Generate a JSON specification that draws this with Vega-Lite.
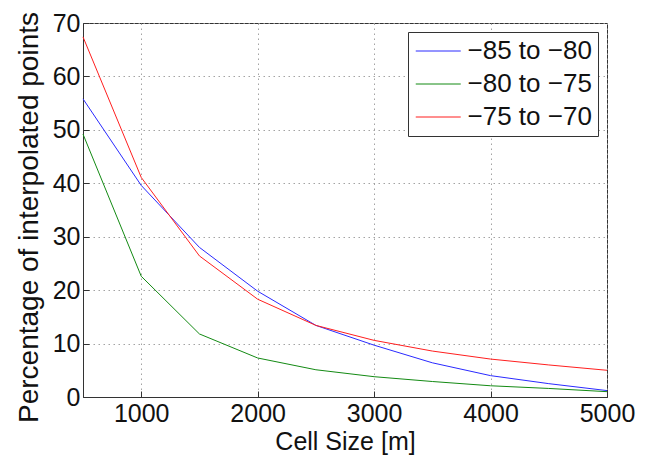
{
  "$schema": "https://vega.github.io/schema/vega-lite/v6.json",
  "width": 524,
  "height": 374,
  "autosize": {"type": "none"},
  "padding": {"left": 83, "top": 23, "right": 44, "bottom": 65},
  "background": "white",
  "config": {
    "font": "Liberation Sans",
    "view": {"stroke": "#333", "strokeWidth": 1},
    "axis": {
      "domainColor": "#333",
      "tickColor": "#333",
      "gridColor": "#999",
      "gridDash": [1.5, 3.5],
      "gridOpacity": 0.9,
      "labelColor": "#111",
      "titleColor": "#111",
      "labelFont": "Liberation Sans",
      "titleFont": "Liberation Sans",
      "titleFontWeight": "normal"
    }
  },
  "data": {
    "values": [
      {"cell": 500, "value": 55.8, "range": "\u221285 to \u221280"},
      {"cell": 1000, "value": 39.6, "range": "\u221285 to \u221280"},
      {"cell": 1500, "value": 28.0, "range": "\u221285 to \u221280"},
      {"cell": 2000, "value": 19.8, "range": "\u221285 to \u221280"},
      {"cell": 2500, "value": 13.4, "range": "\u221285 to \u221280"},
      {"cell": 3000, "value": 9.7, "range": "\u221285 to \u221280"},
      {"cell": 3500, "value": 6.4, "range": "\u221285 to \u221280"},
      {"cell": 4000, "value": 4.0, "range": "\u221285 to \u221280"},
      {"cell": 4500, "value": 2.5, "range": "\u221285 to \u221280"},
      {"cell": 5000, "value": 1.2, "range": "\u221285 to \u221280"},
      {"cell": 500, "value": 49.2, "range": "\u221280 to \u221275"},
      {"cell": 1000, "value": 22.6, "range": "\u221280 to \u221275"},
      {"cell": 1500, "value": 11.8, "range": "\u221280 to \u221275"},
      {"cell": 2000, "value": 7.3, "range": "\u221280 to \u221275"},
      {"cell": 2500, "value": 5.1, "range": "\u221280 to \u221275"},
      {"cell": 3000, "value": 3.8, "range": "\u221280 to \u221275"},
      {"cell": 3500, "value": 2.9, "range": "\u221280 to \u221275"},
      {"cell": 4000, "value": 2.1, "range": "\u221280 to \u221275"},
      {"cell": 4500, "value": 1.6, "range": "\u221280 to \u221275"},
      {"cell": 5000, "value": 1.0, "range": "\u221280 to \u221275"},
      {"cell": 500, "value": 67.4, "range": "\u221275 to \u221270"},
      {"cell": 1000, "value": 41.1, "range": "\u221275 to \u221270"},
      {"cell": 1500, "value": 26.4, "range": "\u221275 to \u221270"},
      {"cell": 2000, "value": 18.3, "range": "\u221275 to \u221270"},
      {"cell": 2500, "value": 13.4, "range": "\u221275 to \u221270"},
      {"cell": 3000, "value": 10.6, "range": "\u221275 to \u221270"},
      {"cell": 3500, "value": 8.6, "range": "\u221275 to \u221270"},
      {"cell": 4000, "value": 7.1, "range": "\u221275 to \u221270"},
      {"cell": 4500, "value": 6.0, "range": "\u221275 to \u221270"},
      {"cell": 5000, "value": 5.0, "range": "\u221275 to \u221270"}
    ]
  },
  "mark": {"type": "line", "strokeWidth": 1},
  "encoding": {
    "x": {
      "field": "cell",
      "type": "quantitative",
      "scale": {"domain": [500, 5000], "nice": false, "zero": false},
      "axis": {
        "title": "Cell Size [m]",
        "values": [1000, 2000, 3000, 4000, 5000],
        "format": "d",
        "labelFontSize": 25,
        "labelPadding": 10,
        "tickSize": -6,
        "labelFlush": false,
        "titleFontSize": 25,
        "titleX": 262,
        "titleY": 52,
        "titleBaseline": "alphabetic",
        "titleAlign": "center"
      }
    },
    "y": {
      "field": "value",
      "type": "quantitative",
      "scale": {"domain": [0, 70], "nice": false},
      "axis": {
        "title": "Percentage of interpolated points",
        "values": [0, 10, 20, 30, 40, 50, 60, 70],
        "labelFontSize": 25,
        "labelPadding": 9,
        "tickSize": -6,
        "labelFlush": false,
        "titleFontSize": 28,
        "titleX": -46,
        "titleY": 194,
        "titleAngle": 270,
        "titleBaseline": "alphabetic",
        "titleAlign": "center"
      }
    },
    "color": {
      "field": "range",
      "type": "nominal",
      "sort": ["\u221285 to \u221280", "\u221280 to \u221275", "\u221275 to \u221270"],
      "scale": {
        "domain": ["\u221285 to \u221280", "\u221280 to \u221275", "\u221275 to \u221270"],
        "range": ["#2a2aff", "#138a13", "#ff1f1f"]
      },
      "legend": {
        "title": null,
        "orient": "none",
        "legendX": 325,
        "legendY": 9,
        "symbolType": "M-1,0H3",
        "symbolSize": 506,
        "symbolStrokeWidth": 1,
        "labelFontSize": 26,
        "labelColor": "#111",
        "labelOffset": 27.5,
        "rowPadding": 7,
        "padding": 6,
        "strokeColor": "#333",
        "fillColor": "white"
      }
    }
  }
}
